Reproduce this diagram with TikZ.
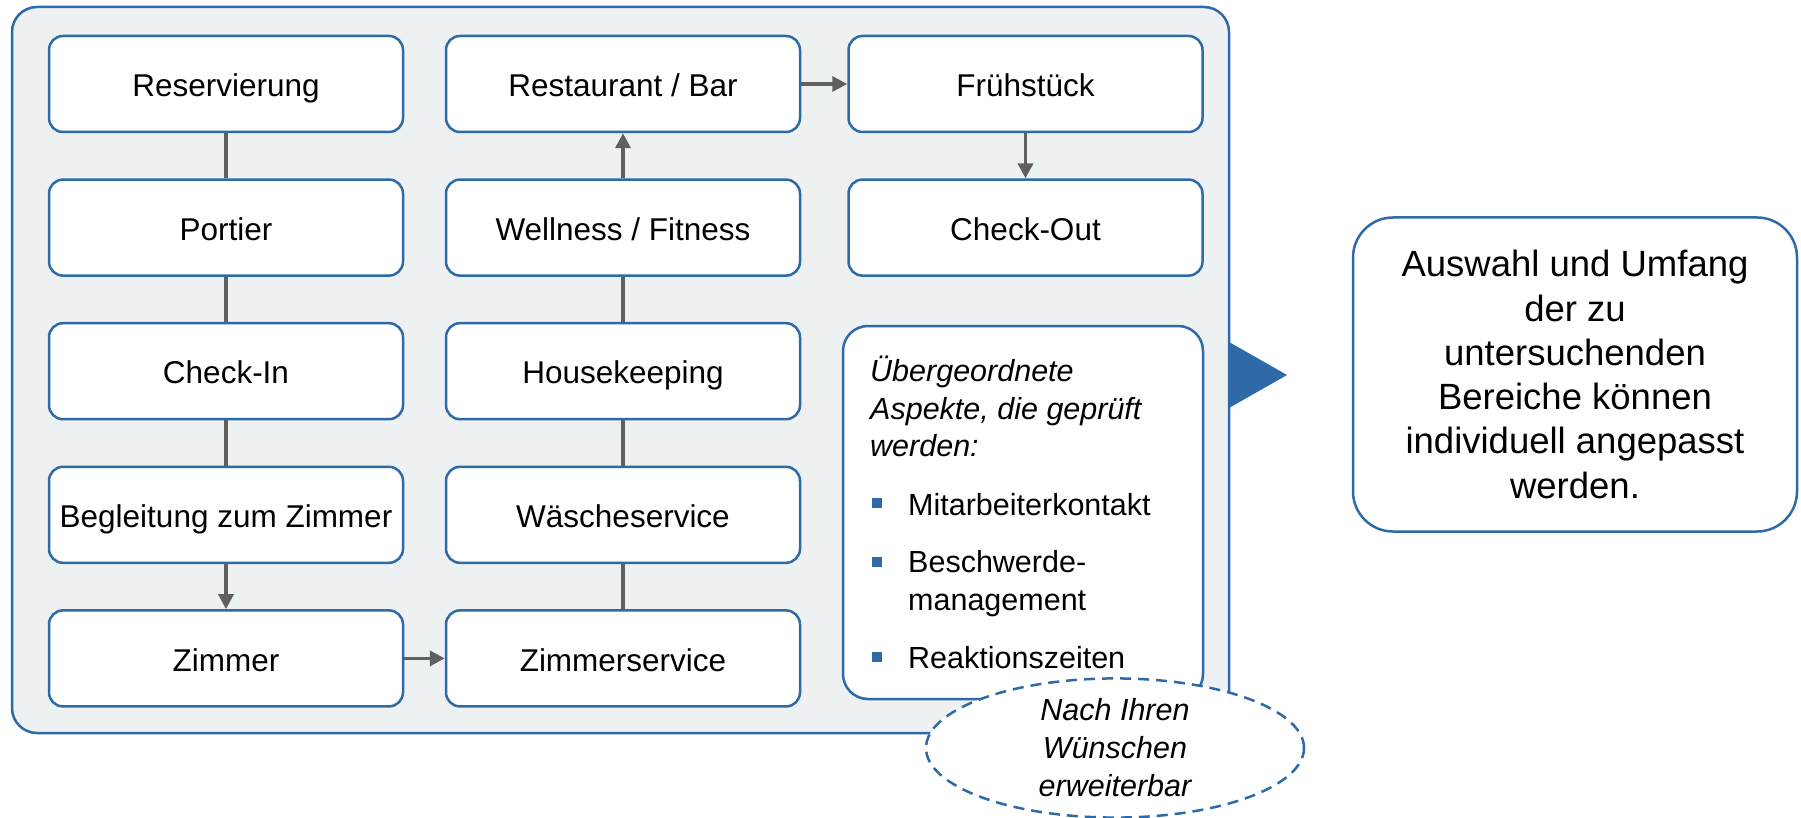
\documentclass[tikz,border=0pt]{standalone}
\usepackage{fontspec}
\setmainfont{Liberation Sans}
\usetikzlibrary{arrows.meta,positioning,shapes.geometric}
\definecolor{hotelblue}{RGB}{46,106,167}
\definecolor{panelgray}{RGB}{237,241,242}
\definecolor{linkgray}{RGB}{96,96,96}
\tikzstyle{frame}=[draw=hotelblue,line width=2.5pt,inner sep=0pt]
\tikzstyle{stepbox}=[frame,fill=white,rounded corners=14pt,minimum width=354pt,minimum height=96pt,text height=28pt,text depth=2.6pt,font=\fontsize{31.5}{36}\selectfont]
\tikzstyle{link}=[draw=linkgray,line width=3.5pt]
\tikzstyle{flow}=[link,-{Triangle[length=15pt,width=15pt]}]
\tikzstyle{bullet}=[fill=hotelblue,minimum size=10pt,inner sep=0pt]
\tikzstyle{aspect}=[anchor=base west,inner sep=0pt,align=left,font=\fontsize{30.5}{38}\selectfont]

\begin{document}
\begin{tikzpicture}[x=1pt,y=-1pt]
  \useasboundingbox (0,0) rectangle (1801,818);
  % panel
  \node[frame,fill=panelgray,rounded corners=25pt,minimum width=1217pt,minimum height=726pt] (panel) at (620.5,370) {};
  % columns
  \def\dy{143.6}
  \foreach \name/\txt [count=\i] in {res/Reservierung,port/Portier,cin/Check-In,begl/Begleitung zum Zimmer,zim/Zimmer} {
    \node[stepbox] (\name) at (226,{84+\dy*(\i-1)}) {\txt};
  }
  \foreach \name/\txt [count=\i] in {rb/{Restaurant / Bar},wf/{Wellness / Fitness},hk/Housekeeping,ws/Wäscheservice,zs/Zimmerservice} {
    \node[stepbox] (\name) at (623,{84+\dy*(\i-1)}) {\txt};
  }
  \node[stepbox] (fr) at (1025.5,84) {Frühstück};
  \node[stepbox] (co) at (1025.5,{84+\dy}) {Check-Out};
  % links
  \draw[link] (res) -- (port);
  \draw[link] (port) -- (cin);
  \draw[link] (cin) -- (begl);
  \draw[flow] (begl) -- (zim);
  \draw[flow] (zim) -- (zs);
  \draw[link] (zs) -- (ws);
  \draw[link] (ws) -- (hk);
  \draw[link] (hk) -- (wf);
  \draw[flow] (wf) -- (rb);
  \draw[flow] (rb) -- (fr);
  \draw[flow] (fr) -- (co);
  % aspects
  \node[frame,fill=white,rounded corners=25pt,minimum width=360pt,minimum height=373pt] (asp) at (1023,512.5) {};
  \node[anchor=north west,inner sep=0pt,align=left,font=\itshape\fontsize{30.5}{37.5}\selectfont] (titel) at (870,356) {Übergeordnete\\Aspekte, die geprüft\\werden:};
  \node[bullet] (b1) at (877,503) {};
  \node[aspect] (m1) at (908,515) {Mitarbeiterkontakt};
  \node[bullet] (b2) at (877,562) {};
  \node[aspect] (m2) at (908,610) {Beschwerde-\\management};
  \node[bullet] (b3) at (877,657) {};
  \node[aspect] (m3) at (908,668) {Reaktionszeiten};
  % extendable
  \node[ellipse,draw=hotelblue,line width=2.5pt,dash pattern=on 11pt off 7pt,fill=white,minimum width=378pt,minimum height=138pt,inner sep=0pt,align=center,font=\itshape\fontsize{30.5}{38}\selectfont] (wunsch) at (1115,748) {Nach Ihren\\Wünschen\\erweiterbar};
  % pointer
  \fill[hotelblue] (1229,342) -- (1287,375) -- (1229,408) -- cycle;
  \node[frame,rounded corners=40pt,minimum width=444pt,minimum height=314pt,align=center,font=\fontsize{36.5}{44.3}\selectfont] (fazit) at (1575,374.5) {Auswahl und Umfang\\der zu\\untersuchenden\\Bereiche können\\individuell angepasst\\werden.};
\end{tikzpicture}
\end{document}
